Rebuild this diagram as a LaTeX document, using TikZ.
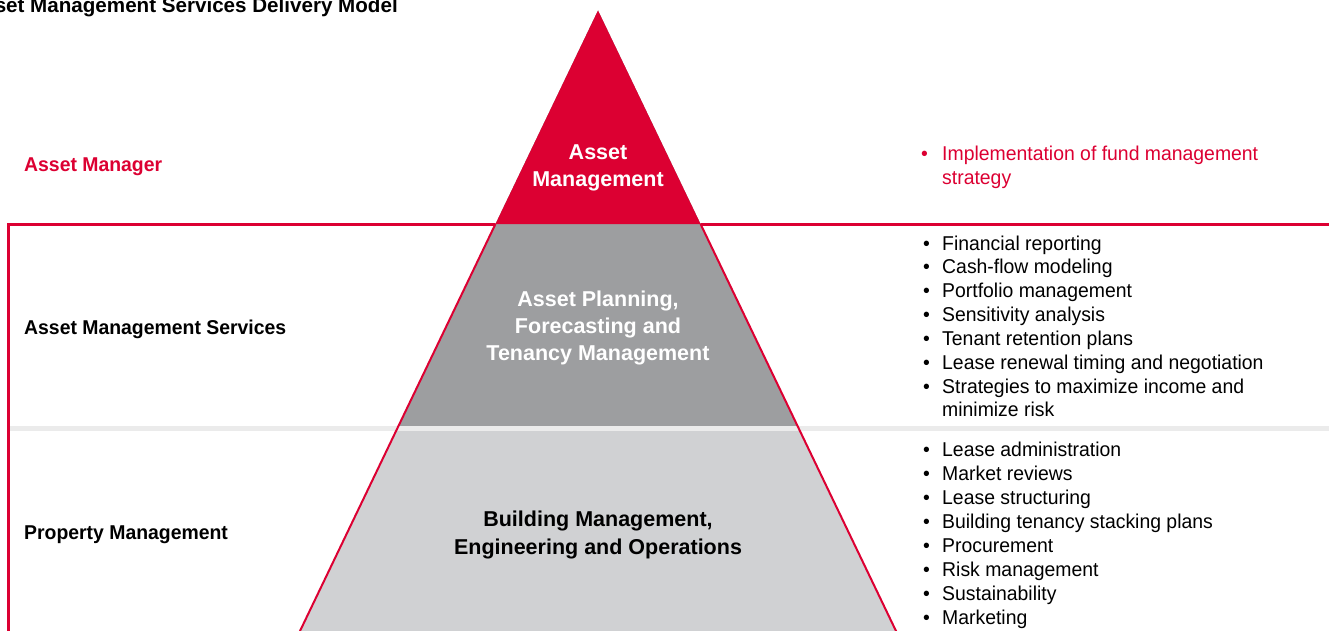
\documentclass[tikz,border=0pt]{standalone}
\usepackage{fontspec}
\setmainfont{Liberation Sans}
\newfontfamily\sidefont[FakeStretch=0.97]{Liberation Sans}
\usetikzlibrary{calc}
\definecolor{pyrred}{HTML}{DC0032}
\definecolor{pyrdark}{HTML}{9D9EA0}
\definecolor{pyrlight}{HTML}{D0D1D3}
\definecolor{bandgray}{HTML}{EBEBEB}
\newcommand\pyrbul[1]{\makebox[#1][l]{•}}
\begin{document}
\begin{tikzpicture}[x=1pt,y=-1pt,
  sidelabel/.style={anchor=base west, inner sep=0pt, font=\sidefont\bfseries\fontsize{20}{24}\selectfont},
  pyrlabel/.style={anchor=base, inner sep=0pt, font=\bfseries\fontsize{21.5}{26.8}\selectfont},
  listtext/.style={anchor=base west, inner sep=0pt},
  frameline/.style={draw=pyrred, line width=2.6pt},
  edgeline/.style={draw=pyrred, line width=2pt}]
\useasboundingbox (0,0) rectangle (1329,631);
\clip (0,0) rectangle (1329,631);
% title (cut off at the left edge, as in the reference)
\node[anchor=base east, inner sep=0pt, font=\bfseries\fontsize{20.6}{24}\selectfont] (title) at (398,12.8) {Asset Management Services Delivery Model};
% frame lines
\coordinate (fb) at (8.7,640);
\coordinate (ft) at (8.7,224.6);
\coordinate (fr) at (1340,224.6);
\draw[frameline] (fb) -- (ft) -- (fr);
% pyramid
\coordinate (apex) at (598,10.5);
\coordinate (bl) at (300,631);
\coordinate (br) at (896,631);
\coordinate (bl2) at ($(apex)!1.02!(bl)$);
\coordinate (br2) at ($(apex)!1.02!(br)$);
\coordinate (rl) at ($(apex)!0.3441!(bl)$);
\coordinate (rr) at ($(apex)!0.3441!(br)$);
\coordinate (dl) at ($(apex)!0.6741!(bl)$);
\coordinate (dr) at ($(apex)!0.6741!(br)$);
\fill[pyrlight] (apex) -- (bl2) -- (br2) -- cycle;
\fill[pyrdark] (apex) -- (dl) -- (dr) -- cycle;
\fill[pyrred] (apex) -- (rl) -- (rr) -- cycle;
% separator band
\coordinate (sl) at (10,428.8);
\coordinate (sr) at (1340,428.8);
\draw[bandgray, line width=5.2pt] (sl) -- (sr);
% red side edges
\draw[edgeline] (rl) -- (bl2);
\draw[edgeline] (rr) -- (br2);
% left labels
\node[sidelabel, text=pyrred] (lam) at (24,171.3) {Asset Manager};
\node[sidelabel] (lams) at (24,334) {Asset Management Services};
\node[sidelabel] (lpm) at (24,539) {Property Management};
% pyramid labels
\node[pyrlabel, text=white] (pam) at (598,159.3) {\begin{tabular}[t]{@{}c@{}}Asset\\Management\end{tabular}};
\node[pyrlabel, text=white, font=\bfseries\fontsize{21.5}{27}\selectfont] (pap) at (598,306) {\begin{tabular}[t]{@{}c@{}}Asset Planning,\\Forecasting and\\Tenancy Management\end{tabular}};
\node[pyrlabel, text=black, font=\bfseries\fontsize{21.5}{27.3}\selectfont] (pbm) at (598,526.7) {\begin{tabular}[t]{@{}c@{}}Building Management,\\Engineering and Operations\end{tabular}};
% right lists
\node[listtext, text=pyrred, font=\sidefont\fontsize{20}{23.8}\selectfont] (ram) at (921,160.5) {\begin{tabular}[t]{@{}l@{}}\pyrbul{21pt}Implementation of fund management\\\hspace*{21pt}strategy\end{tabular}};
\node[listtext, font=\sidefont\fontsize{20}{23.85}\selectfont] (rams) at (923,250) {\begin{tabular}[t]{@{}l@{}}
\pyrbul{19pt}Financial reporting\\
\pyrbul{19pt}Cash-flow modeling\\
\pyrbul{19pt}Portfolio management\\
\pyrbul{19pt}Sensitivity analysis\\
\pyrbul{19pt}Tenant retention plans\\
\pyrbul{19pt}Lease renewal timing and negotiation\\
\pyrbul{19pt}Strategies to maximize income and\\
\hspace*{19pt}minimize risk\end{tabular}};
\node[listtext, font=\sidefont\fontsize{20}{24}\selectfont] (rpm) at (923,456.3) {\begin{tabular}[t]{@{}l@{}}
\pyrbul{19pt}Lease administration\\
\pyrbul{19pt}Market reviews\\
\pyrbul{19pt}Lease structuring\\
\pyrbul{19pt}Building tenancy stacking plans\\
\pyrbul{19pt}Procurement\\
\pyrbul{19pt}Risk management\\
\pyrbul{19pt}Sustainability\\
\pyrbul{19pt}Marketing\end{tabular}};
\end{tikzpicture}
\end{document}
